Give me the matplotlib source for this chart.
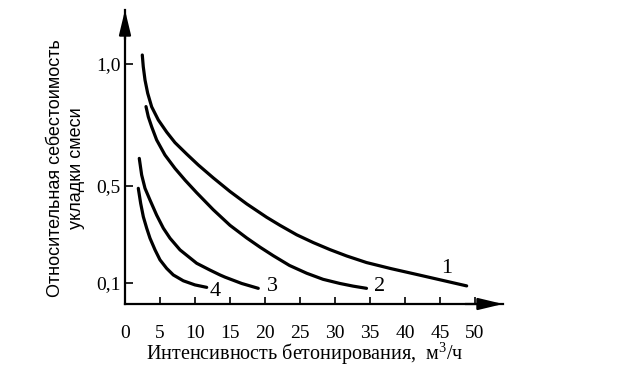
import matplotlib.pyplot as plt
from matplotlib.ticker import FixedLocator

# кривые 1-4: интенсивность бетонирования (м3/ч) и относительная себестоимость
x1 = [2.47, 2.61, 2.86, 3.24, 3.81, 4.76, 5.96, 7.14, 8.81, 10.47, 12.61, 15.0, 17.39, 20.24,
      22.14, 24.53, 26.9, 29.29, 31.67, 34.5, 38.0, 42.14, 45.47, 48.81]
y1 = [1.037, 0.989, 0.934, 0.880, 0.824, 0.770, 0.72, 0.677, 0.63, 0.585, 0.532, 0.476, 0.425, 0.37,
      0.337, 0.298, 0.266, 0.237, 0.211, 0.184, 0.159, 0.132, 0.110, 0.088]

x2 = [3.0, 3.33, 3.81, 4.52, 5.71, 7.14, 8.6, 10.24, 12.61, 15.0, 17.39, 19.3, 21.19, 23.5,
      25.96, 28.3, 30.7, 32.6, 34.5]
y2 = [0.825, 0.783, 0.742, 0.688, 0.626, 0.571, 0.522, 0.471, 0.401, 0.337, 0.285, 0.247, 0.212, 0.172,
      0.140, 0.115, 0.098, 0.087, 0.078]

x3 = [2.04, 2.38, 2.86, 3.57, 4.52, 5.48, 6.43, 7.86, 10.24, 12.14, 13.57, 14.29, 16.67, 19.04]
y3 = [0.612, 0.544, 0.489, 0.441, 0.379, 0.325, 0.284, 0.236, 0.181, 0.153, 0.133, 0.124, 0.098, 0.078]

x4 = [1.9, 2.24, 2.62, 3.1, 3.57, 4.29, 5.0, 5.95, 6.9, 8.33, 10.0, 11.67]
y4 = [0.489, 0.427, 0.372, 0.325, 0.284, 0.236, 0.195, 0.160, 0.133, 0.109, 0.092, 0.082]

curve_labels = ['1', '2', '3', '4']
label_x = [45.95, 36.4, 21.0, 12.9]
label_y = [0.159, 0.085, 0.085, 0.064]

x_ticks = [0, 5, 10, 15, 20, 25, 30, 35, 40, 45, 50]
y_ticks = [0.1, 0.5, 1.0]
y_ticklabels = ['0,1', '0,5', '1,0']

plt.rcParams['mathtext.fontset'] = 'custom'
plt.rcParams['mathtext.rm'] = 'Liberation Serif'
plt.rcParams['mathtext.it'] = 'Liberation Serif'

W, H = 624, 382
fig = plt.figure(figsize=(W / 100, H / 100), dpi=100)
ax = fig.add_axes([125 / W, 1 - 304 / H, 378 / W, 294 / H])
ax.set_xlim(0, 54)
ax.set_ylim(0.0136, 1.222)

for xs, ys in [(x1, y1), (x2, y2), (x3, y3), (x4, y4)]:
    ax.plot(xs, ys, color='black', lw=2.3, solid_capstyle='round', solid_joinstyle='round')

for t, lx, ly in zip(curve_labels, label_x, label_y):
    ax.text(lx, ly, t, ha='center', va='center', fontsize=16, family='Liberation Serif')

for s in ['top', 'right']:
    ax.spines[s].set_visible(False)
for s in ['left', 'bottom']:
    ax.spines[s].set_linewidth(1.6)

# стрелки на концах осей
ax.annotate('', xy=(1, 0), xytext=(0.9, 0), xycoords='axes fraction',
            arrowprops=dict(arrowstyle='-|>,head_length=0.75,head_width=0.18',
                            mutation_scale=20, color='black', lw=1.6, shrinkA=0, shrinkB=0))
ax.annotate('', xy=(0, 1), xytext=(0, 0.9), xycoords='axes fraction',
            arrowprops=dict(arrowstyle='-|>,head_length=0.75,head_width=0.18',
                            mutation_scale=20, color='black', lw=1.6, shrinkA=0, shrinkB=0))

ax.xaxis.set_major_locator(FixedLocator(x_ticks))
ax.set_yticks(y_ticks)
ax.set_yticklabels(y_ticklabels)
ax.tick_params(axis='x', direction='in', length=5, width=1.2, pad=15, labelsize=14)
ax.tick_params(axis='y', direction='in', length=6, width=1.2, pad=3, labelsize=14)
for lab in ax.get_xticklabels() + ax.get_yticklabels():
    lab.set_family('Liberation Serif')

fig.text(305 / W, 1 - 360 / H, 'Интенсивность бетонирования,  м$^3$/ч',
         ha='center', va='baseline', fontsize=14.5, family='Liberation Serif')
fig.text(66 / W, 1 - 168 / H, 'Относительная себестоимость\nукладки смеси',
         ha='center', va='center', rotation=90, fontsize=13, linespacing=1.3,
         multialignment='center', family='Liberation Sans')

fig.savefig('out.png', dpi=100)
